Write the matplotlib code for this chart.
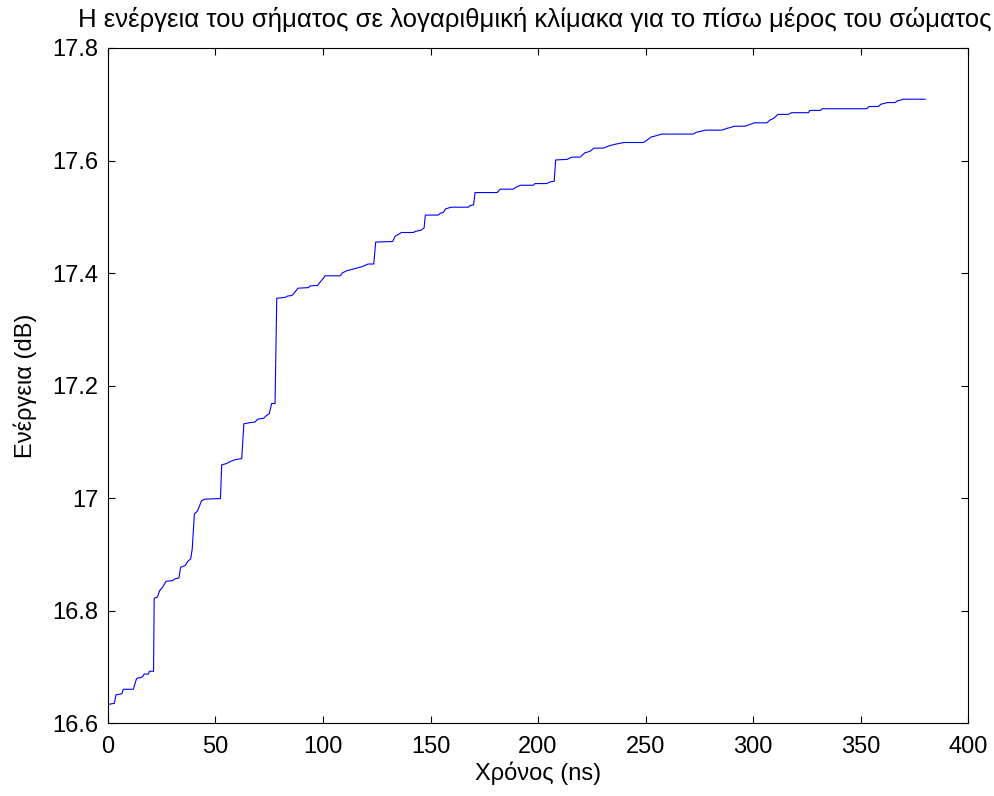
import matplotlib
matplotlib.use("Agg")
import matplotlib.pyplot as plt

# breakpoints of the energy curve (time in ns, energy in dB)
t_ns = [0, 3, 3.7, 6.5, 7.1, 11.8, 13.3, 16.1, 16.8, 18.8, 19.3, 21.2, 21.5, 23, 24,
        25.5, 27, 30, 31, 33, 33.8, 36, 37, 38.5, 39.2, 40.2, 41.5, 42.5, 43.5, 45,
        52.3, 52.9, 55, 57, 59, 62.2, 63.2, 66, 68.4, 69.5, 72.5, 73.5, 75, 76.1, 77.7,
        78.5, 82.8, 83.5, 85.6, 86.5, 88.4, 93.2, 94, 97.5, 98.5, 100, 101, 107.9, 109,
        111, 114.9, 118, 121, 123.6, 124.5, 132.4, 133.5, 136.5, 142, 143, 145.5, 147,
        147.6, 153.6, 154.5, 156, 157, 159.6, 167.6, 168.5, 170, 170.7, 181, 182.4,
        188.5, 189.5, 191.8, 197.8, 198.6, 204, 205.7, 207.5, 208.2, 213.5, 215.8,
        219.5, 221.9, 224, 226, 230.4, 232.9, 236, 240, 249, 250.6, 252.7, 254, 257.5,
        272.2, 273.4, 277.9, 285.4, 287.8, 291.5, 296.3, 300.6, 306.4, 307.9, 309.6,
        311.6, 316.4, 317.9, 325.7, 326.4, 331.2, 332.2, 352.9, 353.9, 358.3, 359.4,
        362.5, 366, 367.1, 370, 380]
energy_db = [16.633, 16.635, 16.650, 16.652, 16.660, 16.660, 16.679, 16.682, 16.687,
             16.687, 16.692, 16.692, 16.822, 16.824, 16.835, 16.842, 16.852, 16.853,
             16.856, 16.858, 16.877, 16.880, 16.887, 16.892, 16.910, 16.972, 16.976,
             16.985, 16.995, 16.998, 16.999, 17.059, 17.061, 17.065, 17.068, 17.070,
             17.132, 17.134, 17.135, 17.140, 17.142, 17.146, 17.150, 17.168, 17.168,
             17.355, 17.357, 17.359, 17.360, 17.364, 17.373, 17.374, 17.377, 17.378,
             17.383, 17.390, 17.395, 17.395, 17.400, 17.404, 17.408, 17.411, 17.416,
             17.416, 17.455, 17.456, 17.465, 17.472, 17.472, 17.474, 17.476, 17.480,
             17.503, 17.503, 17.506, 17.508, 17.514, 17.517, 17.517, 17.520, 17.521,
             17.543, 17.543, 17.549, 17.549, 17.552, 17.556, 17.556, 17.559, 17.559,
             17.562, 17.563, 17.601, 17.602, 17.606, 17.606, 17.614, 17.616, 17.622,
             17.622, 17.626, 17.629, 17.632, 17.632, 17.636, 17.642, 17.643, 17.647,
             17.647, 17.650, 17.654, 17.654, 17.657, 17.661, 17.661, 17.667, 17.667,
             17.672, 17.675, 17.682, 17.682, 17.685, 17.685, 17.689, 17.689, 17.692,
             17.692, 17.696, 17.696, 17.700, 17.703, 17.703, 17.706, 17.709, 17.709]

x_ticks = [0, 50, 100, 150, 200, 250, 300, 350, 400]
y_ticks = [16.6, 16.8, 17.0, 17.2, 17.4, 17.6, 17.8]
y_tick_labels = ["16.6", "16.8", "17", "17.2", "17.4", "17.6", "17.8"]

plt.rcParams["font.family"] = ["Liberation Sans", "DejaVu Sans"]
fs = 17

fig = plt.figure(figsize=(9.95, 7.96), dpi=100)
ax = fig.add_axes([0.1085, 0.0917, 0.8645, 0.848])
ax.plot(t_ns, energy_db, color="blue", lw=0.8)

ax.set_xlim(0, 400)
ax.set_ylim(16.6, 17.8)
ax.set_xticks(x_ticks)
ax.set_yticks(y_ticks)
ax.set_yticklabels(y_tick_labels)
ax.tick_params(direction="in", top=True, right=True, length=5, width=0.8,
               labelsize=fs)
ax.tick_params(axis="y", pad=7)
ax.tick_params(axis="x", pad=9)
for s in ax.spines.values():
    s.set_linewidth(0.8)

ax.set_xlabel("Χρόνος (ns)", fontsize=fs)
ax.set_ylabel("Ενέργεια (dB)", fontsize=fs)
ax.xaxis.set_label_coords(0.5, -0.057)
ax.yaxis.set_label_coords(-0.083, 0.5)
fig.text(535 / 995, 1 - 27 / 796, "Η ενέργεια του σήματος σε λογαριθμική κλίμακα για το πίσω μέρος του σώματος",
         ha="center", va="baseline", fontsize=18.5)

fig.savefig("out.png", dpi=100)
